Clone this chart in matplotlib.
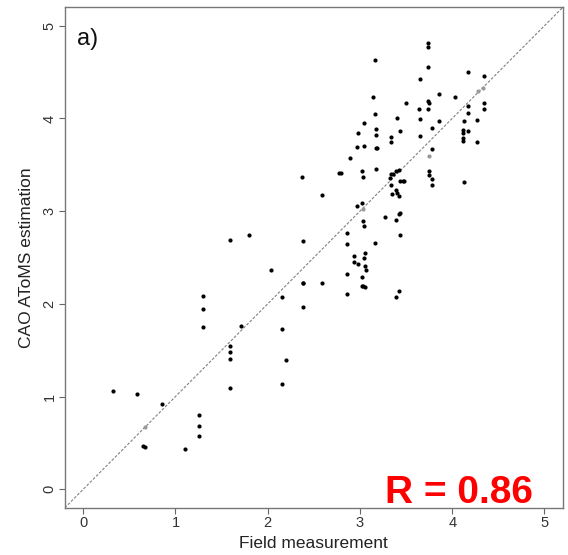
import numpy as np
import matplotlib
matplotlib.use("Agg")
import matplotlib.pyplot as plt

plt.rcParams['font.family'] = ['Liberation Sans', 'DejaVu Sans']

field = [3.74, 3.74, 3.16, 3.74, 4.17, 4.34, 3.65, 3.14, 3.86, 4.03,
         3.74, 3.75, 3.50, 4.34, 4.34, 4.17, 3.64, 3.74, 3.16, 4.17,
         3.04, 3.40, 3.65, 3.86, 4.13, 4.27, 3.78, 3.17, 3.43, 2.98,
         3.17, 4.12, 4.12, 4.17, 3.34, 3.34, 3.65, 4.12, 4.12, 4.27,
         2.97, 3.04, 3.17, 3.19, 3.78, 2.89, 2.77, 2.79, 3.02, 3.17,
         3.03, 3.34, 3.36, 3.39, 3.42, 3.33, 3.43, 3.47, 3.48, 3.75,
         3.75, 3.78, 3.78, 4.13, 3.34, 3.39, 3.40, 3.35, 3.42, 2.59,
         2.37, 2.97, 3.02, 3.03, 3.04, 3.43, 3.42, 3.39, 3.27, 2.86,
         3.16, 2.86, 3.43, 2.38, 2.94, 2.94, 2.98, 3.04, 3.06, 3.05,
         3.07, 2.86, 3.02, 2.38, 2.38, 2.59, 3.02, 3.03, 3.05, 2.86,
         3.42, 3.39, 2.38, 2.04, 2.15, 1.30, 1.30, 1.30, 1.71, 2.15,
         1.59, 1.59, 1.59, 2.20, 2.15, 1.59, 0.32, 0.58, 0.85, 1.25,
         1.25, 1.25, 0.65, 0.67, 1.10, 1.59, 1.80]
atoms = [4.81, 4.77, 4.63, 4.56, 4.50, 4.46, 4.43, 4.23, 4.26, 4.23,
         4.19, 4.17, 4.17, 4.17, 4.10, 4.13, 4.10, 4.10, 4.05, 4.06,
         3.95, 4.00, 3.99, 3.97, 3.97, 3.98, 3.90, 3.89, 3.86, 3.84,
         3.82, 3.88, 3.84, 3.86, 3.80, 3.75, 3.81, 3.79, 3.76, 3.75,
         3.69, 3.70, 3.68, 3.68, 3.67, 3.57, 3.41, 3.41, 3.43, 3.46,
         3.37, 3.40, 3.40, 3.43, 3.44, 3.36, 3.33, 3.33, 3.33, 3.43,
         3.39, 3.35, 3.28, 3.32, 3.28, 3.23, 3.20, 3.18, 3.16, 3.17,
         3.37, 3.06, 3.09, 2.89, 2.84, 2.98, 2.97, 2.91, 2.94, 2.76,
         2.66, 2.65, 2.74, 2.68, 2.52, 2.45, 2.43, 2.49, 2.55, 2.41,
         2.37, 2.32, 2.29, 2.22, 2.23, 2.22, 2.19, 2.19, 2.18, 2.11,
         2.14, 2.07, 1.97, 2.36, 2.07, 2.09, 1.94, 1.75, 1.76, 1.73,
         1.55, 1.48, 1.40, 1.39, 1.14, 1.09, 1.06, 1.03, 0.92, 0.80,
         0.68, 0.57, 0.47, 0.46, 0.43, 2.69, 2.74]
# fainter points lying on the 1:1 line
field_faint = [4.28, 4.33, 3.75, 3.03, 0.67]
atoms_faint = [4.30, 4.33, 3.59, 3.02, 0.67]

ticks = [0, 1, 2, 3, 4, 5]
r_value = 0.86

fig = plt.figure(figsize=(5.68, 5.55), dpi=100)
ax = fig.add_axes([0.114, 0.085, 0.877, 0.902])

ax.plot([-0.2, 5.2], [-0.2, 5.2], color='#808080', lw=0.8, ls=(0, (2.5, 1.5)))
ax.scatter(field_faint, atoms_faint, s=9, color='#999999', lw=0, zorder=3)
ax.scatter(field, atoms, s=9, color='black', lw=0, zorder=4)

ax.set_xlim(-0.2, 5.2)
ax.set_ylim(-0.2, 5.2)
ax.set_xticks(ticks)
ax.set_yticks(ticks)
ax.tick_params(direction='out', length=4, width=0.8, color='#666666',
               labelsize=10.5, labelcolor='#333333', pad=2)
for lab in ax.get_yticklabels():
    lab.set_rotation(90)
    lab.set_va('center')
for s in ax.spines.values():
    s.set_color('#777777')
    s.set_linewidth(1)

ax.set_xlabel('Field measurement', fontsize=12.5, color='#222222', labelpad=4)
ax.set_ylabel('CAO AToMS estimation', fontsize=12.5, color='#222222', labelpad=6)

ax.text(-0.07, 4.98, 'a)', fontsize=17, va='top', ha='left', color='#111111')
fig.text(0.938, 0.094, f'R = {r_value:.2f}', fontsize=28, fontweight='bold',
         color='#ff0000', ha='right', va='baseline')

fig.savefig('out.png', dpi=100)
